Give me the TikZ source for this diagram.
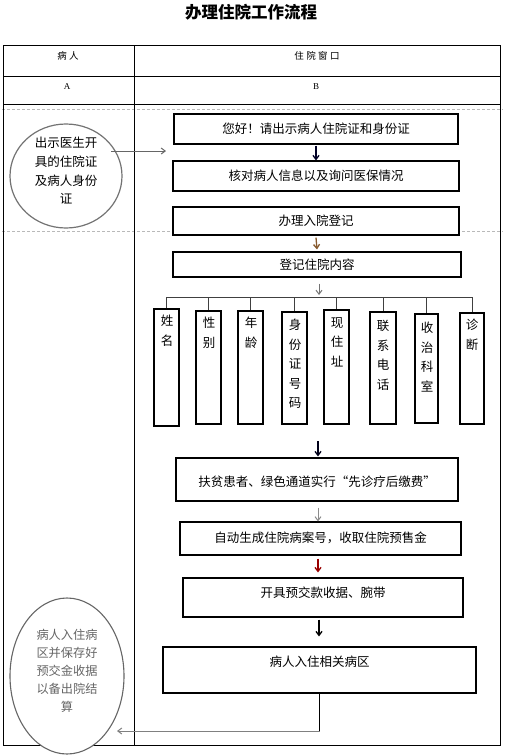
\documentclass[tikz,border=0pt]{standalone}
\usepackage{fontspec}
\setmainfont{Liberation Serif}
\newfontfamily\cjk{Noto Sans CJK SC}
\newfontfamily\cjkh[LetterSpace=25]{Noto Sans CJK SC}
\usetikzlibrary{arrows.meta,shapes.geometric}
\begin{document}
\begin{tikzpicture}[x=1pt,y=-1pt,
  box/.style={draw=black,line width=1.1pt,minimum width=#1,inner sep=0pt,fill=white},
  btext/.style={font=\cjk\fontsize{12.5}{19}\selectfont,inner sep=0pt},
  vbox/.style={draw=black,line width=1.1pt,minimum width=25pt,minimum height=113pt,inner sep=0pt},
  vtext/.style={font=\cjk\fontsize{12.5}{19.5}\selectfont,align=center,inner sep=0pt,anchor=north},
  tip/.style={-{Straight Barb[length=4pt,width=6pt]}},
  dashsep/.style={draw=gray!55,dash pattern=on 3pt off 2pt,line width=0.8pt},
  drop/.style={draw=black!75,line width=1pt}]
\useasboundingbox (0,0) rectangle (504,755);

% title
\node[font=\cjk\bfseries\fontsize{16.5}{17}\selectfont] (title) at (251,12) {办理住院工作流程};

% dashed separators
\draw[dashsep] (2,109) -- (503,109);
\draw[dashsep] (2,231) -- (503,231);

% table
\draw[line width=1pt] (3,45) rectangle (500,745);
\draw[line width=1pt] (3,76) -- (500,76);
\draw[line width=1pt] (3,104) -- (500,104);
\draw[line width=1pt] (134,45) -- (134,745);
\node[font=\cjkh\fontsize{9.5}{10}\selectfont] (h1) at (68,56) {病人};
\node[font=\cjkh\fontsize{9.5}{10}\selectfont] (h2) at (317,56) {住院窗口};
\node[font=\fontsize{9}{10}\selectfont] (ha) at (67,87) {A};
\node[font=\fontsize{9}{10}\selectfont] (hb) at (316,87) {B};

% left circle
\node[draw=black!55,line width=1.2pt,ellipse,minimum width=112pt,minimum height=104pt,inner sep=0pt] (c1) at (66,176) {};
\node[align=center,inner sep=0pt,font=\cjk\fontsize{12.5}{18.7}\selectfont] (c1t) at (66,171) {出示医生开\\具的住院证\\及病人身份\\证};

% main boxes
\node[box=284pt,minimum height=30pt] (b1) at (316,129) {};
\node[btext] (b1t) at (316,129) {您好！请出示病人住院证和身份证};
\node[box=286pt,minimum height=30pt] (b2) at (316,176) {};
\node[btext] (b2t) at (316,176) {核对病人信息以及询问医保情况};
\node[box=286pt,minimum height=28pt] (b3) at (316,221) {};
\node[btext] (b3t) at (316,221) {办理入院登记};
\node[box=288pt,minimum height=25pt] (b4) at (317,264.5) {};
\node[btext] (b4t) at (317,264.5) {登记住院内容};

\coordinate (c1a) at (111,151);
\coordinate (c1b) at (166,151);
\draw[black!60,line width=1pt,tip] (c1a) -- (c1b);

\draw[black!85!blue,line width=1.3pt,tip] ([yshift=-1pt]b1.south) -- (b2.north);
\draw[black!30!brown,line width=1.3pt,tip] ([yshift=-2pt]b3.south) -- ([yshift=2pt]b4.north);

% vertical boxes
\node[vbox,minimum height=117pt] (v1) at (166.5,367.5) {};
\node[vbox] (v2) at (208.5,367.5) {};
\node[vbox] (v3) at (250.5,367.5) {};
\node[vbox,minimum height=112pt] (v4) at (294.5,368) {};
\node[vbox,minimum height=114pt] (v5) at (336.5,367) {};
\node[vbox,minimum height=112pt,minimum width=26pt] (v6) at (383,368) {};
\node[vbox,minimum height=109pt,minimum width=23pt] (v7) at (426.5,368.5) {};
\node[vbox,minimum height=111pt,minimum width=24pt] (v8) at (472,368.5) {};
\node[vtext] (v1t) at (167,315) {姓\\名};
\node[vtext] (v2t) at (209,317) {性\\别};
\node[vtext] (v3t) at (251,317) {年\\龄};
\node[vtext] (v4t) at (295,319) {身\\份\\证\\号\\码};
\node[vtext] (v5t) at (337,317) {现\\住\\址};
\node[vtext] (v6t) at (383,320) {联\\系\\电\\话};
\node[vtext] (v7t) at (427,322) {收\\治\\科\\室};
\node[vtext] (v8t) at (472,319) {诊\\断};

\coordinate (bar) at (319,297);
\draw[black!55,line width=1pt,tip] ([yshift=-6pt]b4.south -| bar) -- ([yshift=2pt]bar);
\draw[drop] (v1.north |- bar) -- (v8.north |- bar);
\foreach \v in {v1,v2,v3,v4,v5,v6,v7,v8}{\draw[drop] (\v.north |- bar) -- (\v.north);}

% lower boxes
\node[box=282pt,minimum height=43pt] (b5) at (317,479.5) {};
\node[btext] (b5t) at (317,482) {扶贫患者、绿色通道实行“先诊疗后缴费”};
\node[box=281pt,minimum height=33pt] (b6) at (320.5,538.5) {};
\node[btext] (b6t) at (320.5,538) {自动生成住院病案号，收取住院预售金};
\node[box=280pt,minimum height=39pt] (b7) at (323,597.5) {};
\node[btext] (b7t) at (323,593) {开具预交款收据、腕带};
\node[box=313pt,minimum height=46pt] (b8) at (319.5,670) {};
\node[btext] (b8t) at (319.5,662) {病人入住相关病区};

\coordinate (k1) at (318,441);
\coordinate (k2) at (319,0);
\draw[black!90!blue,line width=1.3pt,tip] (k1) -- ([yshift=1pt]b5.north -| k1);
\draw[black!45,line width=1pt,tip] ([yshift=-6pt]b5.south -| k1) -- (b6.north -| k1);
\draw[black!40!red,line width=1.3pt,tip] ([yshift=-3pt]b6.south -| k1) -- ([yshift=5pt]b7.north -| k1);
\draw[black,line width=1.3pt,tip] ([yshift=-2pt]b7.south -| k2) -- ([yshift=10pt]b8.north -| k2);

% bottom ellipse
\node[draw=black!60,line width=1.1pt,ellipse,fill=white,minimum width=114pt,minimum height=156pt,inner sep=0pt] (c2) at (67,676) {};
\node[align=center,inner sep=0pt,text=black!60,font=\cjk\fontsize{12.2}{18}\selectfont] (c2t) at (67,671) {病人入住病\\区并保存好\\预交金收据\\以备出院结\\算};

\coordinate (corner) at (319.5,731);
\coordinate (endc) at (117,731);
\draw[black,line width=1pt] (b8.south) -- (corner);
\draw[black!50,line width=1pt,tip] (corner) -- (endc);
\end{tikzpicture}
\end{document}
